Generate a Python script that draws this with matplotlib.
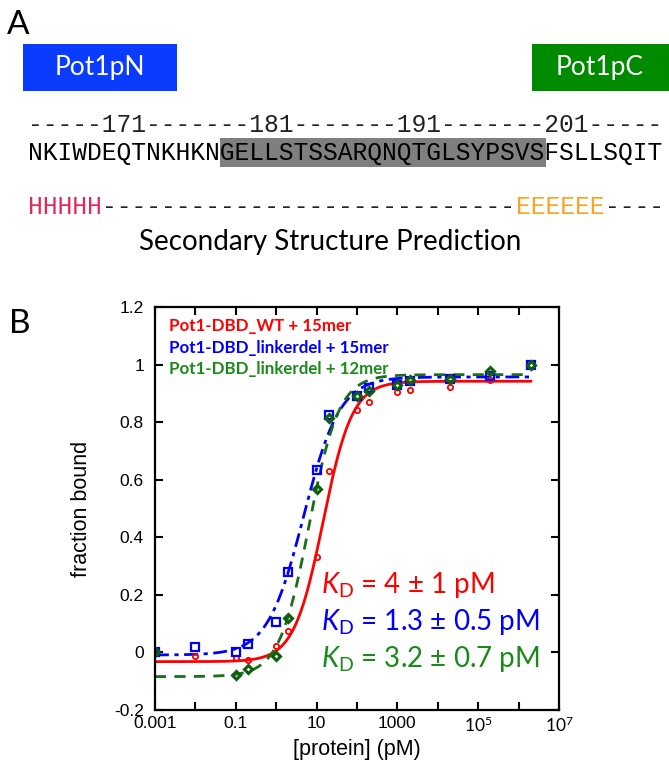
import numpy as np
import matplotlib
matplotlib.use("Agg")
import matplotlib.pyplot as plt
from matplotlib.patches import Rectangle

plt.rcParams["font.family"] = ["Liberation Sans", "DejaVu Sans"]
plt.rcParams["mathtext.fontset"] = "custom"
plt.rcParams["mathtext.rm"] = "Lato"
plt.rcParams["mathtext.it"] = "Lato:italic"

# ---- panel A: linker sequence ----
ruler = "-----171-------181-------191-------201-----"
sequence = "NKIWDEQTNKHKNGELLSTSSARQNQTGLSYPSVSFSLLSQIT"
linker_start, linker_end = 13, 35
ss_segments = [("HHHHH", "#e8245c"), ("-" * 28, "#222222"),
               ("EEEEEE", "#f5a524"), ("----", "#222222")]

# ---- panel B: binding data ----
conc = [0.001, 0.01, 0.1, 0.2, 1, 2, 10, 20, 100, 200, 1000, 2000, 2e4, 2e5, 2e6]
wt15 = [0.0, -0.011, -0.018, -0.028, 0.023, 0.076, 0.331, 0.631, 0.841, 0.870,
        0.905, 0.910, 0.921, 0.945, 1.0]
ld15 = [0.0, 0.018, 0.003, 0.030, 0.104, 0.279, 0.635, 0.826, 0.892, 0.918,
        0.928, 0.942, 0.950, 0.962, 1.0]
conc12 = [0.001, 0.1, 0.2, 1, 2, 10, 20, 100, 200, 1000, 2000, 2e4, 2e5, 2e6]
ld12 = [0.0, -0.078, -0.059, -0.012, 0.121, 0.568, 0.815, 0.890, 0.907, 0.930,
        0.945, 0.950, 0.977, 1.0]

# fit parameters: bottom, top, K (pM), hill n
fit_wt15 = (-0.032, 0.942, 14.5, 1.2)
fit_ld15 = (-0.009, 0.957, 4.8, 0.97)
fit_ld12 = (-0.084, 0.965, 6.5, 1.17)

labels = ["Pot1-DBD_WT + 15mer", "Pot1-DBD_linkerdel + 15mer", "Pot1-DBD_linkerdel + 12mer"]
kd_text = ["4 ± 1 pM", "1.3 ± 0.5 pM", "3.2 ± 0.7 pM"]
xtick_vals = [1e-3, 1e-2, 1e-1, 1, 10, 100, 1e3, 1e4, 1e5, 1e6, 1e7]
xtick_labels = ["0.001", "", "0.1", "", "10", "", "1000", "", "$10^5$", "", "$10^7$"]
ytick_vals = [-0.2, 0, 0.2, 0.4, 0.6, 0.8, 1.0, 1.2]
ytick_labels = ["-0.2", "0", "0.2", "0.4", "0.6", "0.8", "1", "1.2"]

RED, BLUE, GREEN = "#ff0000", "#0000ff", "#1a8a1a"
GREEN_DARK = "#0e5f0e"


def hill(x, p):
    b, t, k, n = p
    return b + (t - b) * x ** n / (k ** n + x ** n)


W, H = 669, 764
fig = plt.figure(figsize=(W / 100, H / 100), dpi=100)

# panel B
ax = fig.add_axes([155 / W, 1 - 710 / H, 404 / W, 403 / H])
xs = np.logspace(-3, np.log10(2e6), 400)

ax.plot(xs, hill(xs, fit_wt15), color=RED, lw=2)
ax.plot(xs, hill(xs, fit_ld15), color=BLUE, lw=2, dashes=(5, 2, 1.5, 2))
ax.plot(xs, hill(xs, fit_ld12), color="#1a6e1a", lw=2, dashes=(4, 3))

ax.plot(conc, wt15, "o", ms=3.8, mfc="none", mec=RED, mew=1.3)
ax.plot(conc, ld15, "s", ms=5.8, mfc="none", mec=BLUE, mew=1.6)
ax.plot(conc12, ld12, "D", ms=4.2, mfc="none", mec=GREEN_DARK, mew=2.2)

ax.set_xscale("log")
ax.set_xlim(1e-3, 1e7)
ax.set_ylim(-0.2, 1.2)
ax.set_xticks(xtick_vals)
ax.set_xticklabels(xtick_labels)
ax.xaxis.set_minor_locator(matplotlib.ticker.NullLocator())
ax.set_yticks(ytick_vals)
ax.set_yticklabels(ytick_labels)
ax.tick_params(direction="in", length=6, width=1.5, top=True, right=True,
               labelsize=12.5, colors="black")
ax.tick_params(axis="x", pad=4)
ax.tick_params(axis="y", pad=8)
for s in ax.spines.values():
    s.set_linewidth(1.6)
ax.set_xlabel("[protein] (pM)", fontsize=15.5, labelpad=3)
ax.set_ylabel("fraction bound", fontsize=15.5, labelpad=16)

# overlay in pixel coords for panel A and in-plot labels
ov = fig.add_axes([0, 0, 1, 1])
ov.set_xlim(0, W)
ov.set_ylim(H, 0)
ov.set_axis_off()
ov.set_zorder(10)

ov.text(7, 25, "A", fontsize=24, family="Lato", va="center", ha="left")
ov.text(9, 324, "B", fontsize=24, family="Lato", va="center", ha="left")

ov.add_patch(Rectangle((23, 44), 154, 47, color="#0a3cff", lw=0))
ov.text(100, 68, "Pot1pN", color="white", fontsize=19, family="Lato", ha="center", va="center")
ov.add_patch(Rectangle((532, 44), 137, 47, color="#008a00", lw=0))
ov.text(600, 68, "Pot1pC", color="white", fontsize=19, family="Lato", ha="center", va="center")

cw = 14.8
x0 = 28
mono = dict(family="Liberation Mono", fontsize=cw / 0.6 * 0.72, va="center", ha="left")
ov.text(x0, 125, ruler, color="#222222", **mono)
ov.add_patch(Rectangle((x0 + linker_start * cw, 138), (linker_end - linker_start) * cw, 29,
                       color="#7f7f7f", lw=0))
ov.text(x0, 153, sequence, color="black", **mono)
pos = 0
for seg, col in ss_segments:
    ov.text(x0 + pos * cw, 207, seg, color=col, **mono)
    pos += len(seg)
ov.text(330, 242, "Secondary Structure Prediction", fontsize=20, family="Lato",
        ha="center", va="center")

for i, (lab, col) in enumerate(zip(labels, [RED, BLUE, GREEN])):
    ov.text(169, 331 + i * 21.7, lab, color=col, fontsize=12.2, family="Lato",
            weight="bold", ha="left", va="baseline")

for i, (kd, col) in enumerate(zip(kd_text, [RED, BLUE, GREEN])):
    ov.text(321, 593 + i * 37, r"$\mathit{K}_{\mathrm{D}}$ = " + kd, color=col,
            fontsize=20, family="Lato", ha="left", va="baseline")

fig.savefig("out.png", dpi=100)
